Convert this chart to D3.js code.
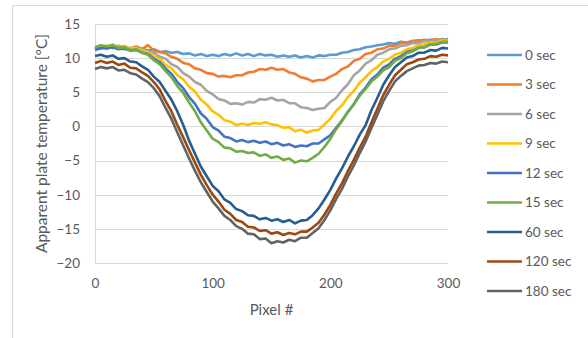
<!DOCTYPE html>
<html>
<head>
<meta charset="utf-8">
<script src="https://cdn.jsdelivr.net/npm/d3@7"></script>
<style>
  body { margin: 0; background: #fff; }
  svg text { font-family: Lato, "Liberation Sans", sans-serif; fill: #595959; }
</style>
</head>
<body>
<main></main>
<script>
(function(){

  const w = 588,
  h = 338,
  margin = {left: 95, right: 140, top: 24, bottom: 75};

  // DATA: pixel # sampled every 5
  const pixels = d3.range(0, 301, 5);
  const seriesNames = ["0 sec", "3 sec", "6 sec", "9 sec", "12 sec", "15 sec", "60 sec", "120 sec", "180 sec"];
  const seriesColors = ["#5B9BD5", "#ED7D31", "#A5A5A5", "#FFC000", "#4472C4", "#70AD47", "#255E91", "#9E480E", "#636363"];

  const sec0 = [11.4,11.7,11.5,11.8,11.6,11.3,11.5,11.2,11.4,11.1,11.3,10.9,11.0,10.8,10.9,10.6,10.7,10.4,10.6,10.3,10.5,10.3,10.6,10.4,10.7,10.4,10.6,10.3,10.6,10.4,10.5,10.2,10.4,10.2,10.4,10.1,10.3,10.1,10.4,10.3,10.5,10.5,10.8,10.9,11.2,11.3,11.6,11.7,11.9,12.0,12.2,12.1,12.4,12.3,12.5,12.6,12.5,12.7,12.6,12.8,12.7];
  const sec3 = [11.6,11.4,11.7,11.5,11.8,11.6,11.4,11.7,11.3,11.9,11.1,10.9,10.7,10.2,9.9,9.3,9.1,8.5,8.3,7.8,7.7,7.3,7.4,7.2,7.5,7.5,7.9,8.0,8.4,8.3,8.6,8.3,8.4,7.9,7.7,7.2,7.0,6.6,6.8,6.8,7.3,7.7,8.4,8.8,9.6,9.9,10.6,10.8,11.3,11.4,11.8,11.8,12.2,12.2,12.5,12.5,12.7,12.6,12.8,12.7,12.8];
  const sec6 = [11.3,11.6,11.8,11.5,11.7,11.4,11.5,11.2,11.3,10.9,10.8,10.2,9.9,9.1,8.7,7.8,7.3,6.5,6.1,5.2,4.7,4.0,3.8,3.3,3.4,3.2,3.6,3.5,4.0,3.9,4.2,3.8,3.9,3.4,3.4,2.8,2.7,2.4,2.6,2.7,3.6,4.2,5.3,6.2,7.5,8.2,9.2,9.7,10.5,10.8,11.3,11.4,11.8,11.9,12.2,12.2,12.5,12.4,12.7,12.6,12.8];
  const sec9 = [11.5,11.8,11.7,12.0,11.6,11.8,11.4,11.5,11.1,10.9,10.3,9.9,9.0,8.5,7.5,6.9,5.8,5.1,3.9,3.2,2.2,1.7,0.9,0.7,0.2,0.4,0.2,0.5,0.4,0.6,0.3,0.2,-0.2,-0.1,-0.7,-0.5,-0.9,-0.6,-0.5,0.3,1.1,2.3,3.1,4.3,5.2,6.4,7.2,8.1,8.7,9.5,9.9,10.5,10.8,11.3,11.5,11.9,12.0,12.3,12.3,12.6,12.5];
  const sec12 = [11.2,11.5,11.4,11.6,11.3,11.4,11.1,11.2,10.8,10.6,9.9,9.4,8.5,7.7,6.5,5.6,4.3,3.3,1.9,1.1,-0.1,-0.6,-1.5,-1.7,-2.2,-2.0,-2.3,-2.1,-2.4,-2.2,-2.6,-2.4,-2.8,-2.6,-3.0,-2.8,-2.9,-2.5,-2.5,-1.9,-1.3,-0.2,0.9,2.1,3.3,4.7,5.7,6.9,7.6,8.6,9.1,9.9,10.3,10.9,11.1,11.5,11.6,12.0,12.0,12.3,12.3];
  const sec15 = [11.6,11.9,11.7,11.9,11.5,11.6,11.2,11.3,10.8,10.5,9.7,9.1,8.1,7.2,5.9,4.9,3.5,2.2,0.6,-0.6,-1.8,-2.3,-3.1,-3.2,-3.7,-3.6,-3.9,-3.8,-4.3,-4.1,-4.6,-4.4,-4.9,-4.7,-5.3,-5.0,-5.1,-4.6,-4.0,-3.0,-1.8,-0.4,0.8,2.2,3.2,4.5,5.5,6.6,7.3,8.2,8.7,9.6,10.0,10.7,11.0,11.5,11.6,12.0,12.1,12.4,12.4];
  const sec60 = [10.3,10.5,10.2,10.4,9.9,10.0,9.5,9.4,8.8,8.3,7.3,6.5,5.2,3.9,2.2,0.2,-2.1,-4.0,-5.9,-7.3,-8.7,-9.5,-10.7,-11.2,-12.1,-12.4,-13.0,-13.1,-13.6,-13.4,-13.8,-13.6,-14.0,-13.7,-14.2,-13.8,-13.7,-13.0,-12.0,-10.7,-9.3,-7.6,-6.1,-4.4,-2.9,-1.2,0.2,2.4,4.2,6.1,7.5,8.7,9.4,10.1,10.3,10.8,10.8,11.2,11.1,11.5,11.4];
  const sec120 = [9.3,9.6,9.3,9.5,9.0,9.2,8.6,8.5,7.9,7.4,6.5,5.4,3.7,2.2,0.2,-1.6,-3.5,-5.3,-7.1,-8.6,-10.0,-11.0,-12.2,-12.8,-13.7,-14.0,-14.7,-14.8,-15.3,-15.2,-15.7,-15.5,-15.9,-15.6,-15.8,-15.4,-15.4,-14.8,-14.1,-12.9,-11.5,-9.8,-8.3,-6.5,-4.9,-3.1,-1.5,0.6,2.6,4.6,6.1,7.5,8.3,9.1,9.4,9.8,9.9,10.3,10.2,10.5,10.4];
  const sec180 = [8.4,8.7,8.5,8.7,8.2,8.3,7.8,7.6,7.0,6.5,5.6,4.4,2.7,1.1,-0.9,-2.8,-4.7,-6.5,-8.2,-9.6,-11.0,-12.0,-13.1,-13.7,-14.6,-15.0,-15.7,-15.8,-16.5,-16.4,-17.1,-16.8,-17.0,-16.6,-16.8,-16.3,-16.3,-15.6,-14.9,-13.7,-12.3,-10.6,-9.1,-7.3,-5.7,-3.9,-2.2,-0.2,1.7,3.7,5.2,6.6,7.4,8.1,8.5,8.9,9.0,9.3,9.2,9.5,9.4];

  const seriesValues = [sec0, sec3, sec6, sec9, sec12, sec15, sec60, sec120, sec180];
  const xTicks = [0, 100, 200, 300];
  const yTicks = [-20, -15, -10, -5, 0, 5, 10, 15];

  // APPEND SVG
  const svg = d3.select("main")
    .append("svg")
    .attr("width", w)
    .attr("height", h);

  // chart frame
  svg.append("path")
    .attr("d", "M12.5," + h + "V5.5H" + w)
    .attr("fill", "none")
    .attr("stroke", "#d9d9d9");

  const x = d3.scaleLinear().domain([0, 300]).range([margin.left, w - margin.right]);
  const y = d3.scaleLinear().domain([-20, 15]).range([h - margin.bottom, margin.top]);

  // GRID
  svg.append("g")
    .selectAll("line")
    .data(yTicks)
    .join("line")
    .attr("x1", x(0))
    .attr("x2", x(300))
    .attr("y1", d => Math.round(y(d)) + 0.5)
    .attr("y2", d => Math.round(y(d)) + 0.5)
    .attr("stroke", "#d9d9d9");

  svg.append("line")
    .attr("x1", Math.round(x(0)) + 0.5)
    .attr("x2", Math.round(x(0)) + 0.5)
    .attr("y1", y(15))
    .attr("y2", y(-20))
    .attr("stroke", "#d9d9d9");

  // AXES
  const yAxis = d3.axisLeft(y).tickValues(yTicks).tickSize(0).tickPadding(15);
  svg.append("g")
    .attr("transform", "translate(" + x(0) + ",0)")
    .call(yAxis)
    .call(g => g.select(".domain").remove())
    .selectAll("text")
    .attr("font-size", 13.5)
    .attr("font-family", "Lato, sans-serif")
    .attr("fill", "#595959");

  const xAxis = d3.axisBottom(x).tickValues(xTicks).tickSize(0).tickPadding(15);
  svg.append("g")
    .attr("transform", "translate(0," + y(-20) + ")")
    .call(xAxis)
    .call(g => g.select(".domain").remove())
    .selectAll("text")
    .attr("font-size", 13.5)
    .attr("font-family", "Lato, sans-serif")
    .attr("fill", "#595959");

  // TITLES
  svg.append("text")
    .attr("x", (x(0) + x(300)) / 2)
    .attr("y", 315)
    .attr("text-anchor", "middle")
    .attr("font-size", 15)
    .text("Pixel #");

  svg.append("text")
    .attr("transform", "translate(47," + (y(15) + y(-20)) / 2 + ") rotate(-90)")
    .attr("text-anchor", "middle")
    .attr("font-size", 15.5)
    .text("Apparent plate temperature [°C]");

  // LINES
  const line = d3.line()
    .x((d, i) => x(pixels[i]))
    .y(d => y(d));

  svg.append("g")
    .selectAll("path")
    .data(seriesValues)
    .join("path")
    .attr("d", d => line(d))
    .attr("fill", "none")
    .attr("stroke", (d, i) => seriesColors[i])
    .attr("stroke-width", 2.6)
    .attr("stroke-linejoin", "round");

  // LEGEND
  const legend = svg.append("g");
  const ly = d3.scalePoint().domain(seriesNames).range([55, 291]);

  legend.selectAll("line")
    .data(seriesNames)
    .join("line")
    .attr("x1", 487)
    .attr("x2", 522)
    .attr("y1", d => ly(d))
    .attr("y2", d => ly(d))
    .attr("stroke", (d, i) => seriesColors[i])
    .attr("stroke-width", 2.6);

  legend.selectAll("text")
    .data(seriesNames)
    .join("text")
    .attr("x", 525)
    .attr("y", d => ly(d))
    .attr("dy", "0.35em")
    .attr("font-size", 13.5)
    .text(d => d);

})()
</script>
</body>
</html>
